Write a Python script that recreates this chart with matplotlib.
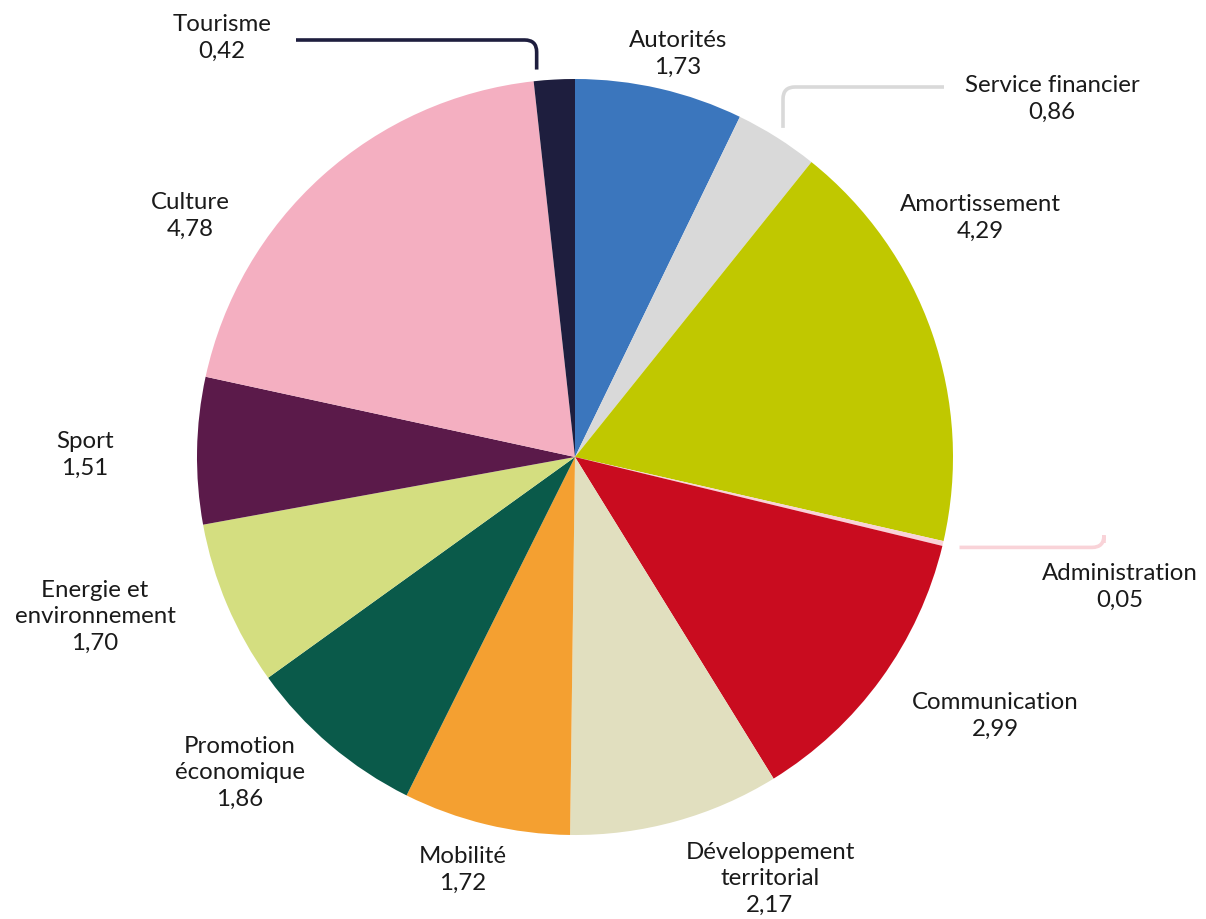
import numpy as np
import matplotlib
matplotlib.use("Agg")
import matplotlib.pyplot as plt
from matplotlib.path import Path
from matplotlib.patches import PathPatch

categories = ["Autorités", "Service financier", "Amortissement", "Administration",
              "Communication", "Développement\nterritorial", "Mobilité",
              "Promotion\néconomique", "Energie et\nenvironnement", "Sport",
              "Culture", "Tourisme"]
values = [1.73, 0.86, 4.29, 0.05, 2.99, 2.17, 1.72, 1.86, 1.70, 1.51, 4.78, 0.42]
colors = ["#3B76BD", "#D9D9D9", "#C0C800", "#F9D3D8", "#C90C1F", "#E1DFBF",
          "#F4A031", "#0A5A4A", "#D4DE80", "#5B1A4A", "#F4AFC1", "#1E1E3E"]

W, H = 1206, 920
CX, CY, R = 575, 458, 378

plt.rcParams['font.family'] = ['Lato', 'DejaVu Sans']
fig = plt.figure(figsize=(W / 100, H / 100), dpi=100)
ax = fig.add_axes([0, 0, 1, 1])


def px(x, y):
    return ((x - CX) / R, (CY - y) / R)


def topx(xd, yd):
    return (CX + xd * R, CY - yd * R)


wedges, _ = ax.pie(values, colors=colors, startangle=90, counterclock=False,
                   radius=1.0, center=(0, 0), frame=True,
                   wedgeprops=dict(linewidth=0))
ax.set_xlim((0 - CX) / R, (W - CX) / R)
ax.set_ylim((CY - H) / R, CY / R)
ax.set_aspect('auto')
ax.axis('off')

# label centres (pixel layout)
label_pos = {
    "Autorités": (678, 54),
    "Service financier": (1052, 99),
    "Amortissement": (980, 218),
    "Administration": (1120, 587),
    "Communication": (995, 716),
    "Développement\nterritorial": (770, 879),
    "Mobilité": (463, 870),
    "Promotion\néconomique": (240, 773),
    "Energie et\nenvironnement": (95, 617),
    "Sport": (85, 455),
    "Culture": (190, 216),
    "Tourisme": (222, 38),
}
for cat, v in zip(categories, values):
    x, y = px(*label_pos[cat])
    ax.text(x, y, f"{cat}\n{v:.2f}".replace('.', ','), ha='center', va='center',
            fontsize=17.3, color='#1a1a1a', linespacing=1.32)


def anchor(idx, r, frac=0.5):
    w = wedges[idx]
    ang = np.deg2rad(w.theta1 + (w.theta2 - w.theta1) * frac)
    return topx(r * np.cos(ang), r * np.sin(ang))


def leader(points_px, color, rad=12):
    (x0, y0), (xc, yc), (x1, y1) = points_px
    def toward(a, b, d):
        dx, dy = b[0] - a[0], b[1] - a[1]
        L = np.hypot(dx, dy)
        return (a[0] + dx / L * d, a[1] + dy / L * d)
    p1 = toward((xc, yc), (x0, y0), rad)
    p2 = toward((xc, yc), (x1, y1), rad)
    verts = [px(x0, y0), px(*p1), px(xc, yc), px(*p2), px(x1, y1)]
    codes = [Path.MOVETO, Path.LINETO, Path.CURVE3, Path.CURVE3, Path.LINETO]
    ax.add_patch(PathPatch(Path(verts, codes), fill=False, edgecolor=color,
                           linewidth=2.6, capstyle='butt', zorder=3))


# Tourisme
ax_, ay_ = anchor(11, 1.03, 0.9)
leader([(296, 41), (ax_, 41), (ax_, ay_)], colors[11])
# Service financier
sx, sy = anchor(1, 1.03)
leader([(944, 88), (sx, 88), (sx, sy)], colors[1])
# Administration
dx_, dy_ = anchor(3, 1.045)
leader([(dx_, dy_), (1104, dy_), (1104, 544)], colors[3])

fig.savefig("out.png", dpi=100)
